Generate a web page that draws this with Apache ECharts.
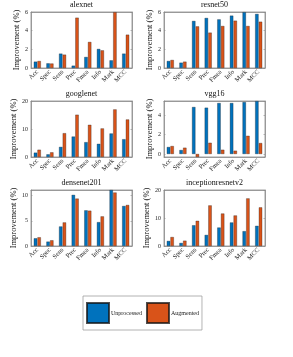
<!DOCTYPE html>
<html>
<head>
<meta charset="utf-8">
<script src="https://cdn.jsdelivr.net/npm/echarts@6/dist/echarts.min.js"></script>
<style>
html,body{margin:0;padding:0;background:#fff;}
#c{width:293px;height:357px;}
</style>
</head>
<body>
<div id="c"></div>
<script>
const categories = ['Acc','Spec','Sens','Prec','Fmea','Info','Mark','MCC'];
const seriesNames = ['Unprocessed','Augmented'];
const panelTitles = ['alexnet','resnet50','googlenet','vgg16','densenet201','inceptionresnetv2'];

const alexnetUnprocessed = [0.68, 0.50, 1.54, 0.25, 1.18, 2.04, 0.82, 1.54];
const alexnetAugmented   = [0.75, 0.48, 1.43, 5.39, 2.79, 1.89, 5.98, 3.57];
const resnet50Unprocessed = [0.75, 0.57, 5.04, 5.36, 5.21, 5.61, 5.98, 5.79];
const resnet50Augmented   = [0.86, 0.68, 4.46, 3.79, 4.50, 5.07, 4.50, 4.96];
const googlenetUnprocessed = [1.55, 0.95, 3.6, 7.3, 5.3, 4.7, 8.4, 6.35];
const googlenetAugmented   = [2.6, 1.67, 8.5, 15.1, 11.5, 10.2, 17.0, 13.4];
const vgg16Unprocessed = [0.72, 0.41, 4.85, 4.78, 5.26, 5.26, 5.36, 5.46];
const vgg16Augmented   = [0.82, 0.65, -0.31, 1.16, 0.44, 0.34, 1.88, 1.13];
const densenet201Unprocessed = [1.53, 0.87, 3.87, 10.13, 7.07, 4.73, 11.1, 7.93];
const densenet201Augmented   = [1.73, 1.13, 4.67, 9.4, 7.0, 5.87, 10.6, 8.13];
const inceptionUnprocessed = [1.8, 1.08, 7.4, 3.95, 6.6, 8.4, 5.3, 7.2];
const inceptionAugmented   = [3.2, 1.9, 9.0, 14.5, 11.6, 10.9, 17.0, 13.8];

// y-axis limits per panel: [min, max, interval or null]
const yLimits = [
  [0, 6, 2], [0, 6, 2],
  [0, 20, 10], [-0.31, 5.47, null],
  [0, 11.1, 5], [0, 20, 10]
];

const panelData = [
  [alexnetUnprocessed, alexnetAugmented],
  [resnet50Unprocessed, resnet50Augmented],
  [googlenetUnprocessed, googlenetAugmented],
  [vgg16Unprocessed, vgg16Augmented],
  [densenet201Unprocessed, densenet201Augmented],
  [inceptionUnprocessed, inceptionAugmented]
];

const FONT = 'Liberation Serif';
const AX = '#8a8a8a';
const colors = ['#0072BD', '#D95319'];
const colLeft = [31, 164];
const rowTop = [12, 101, 190];
const W = 101, H = 56;

const grids = [], xAxes = [], yAxes = [], titles = [], series = [];
for (let i = 0; i < 6; i++) {
  const c = i % 2, r = Math.floor(i / 2);
  grids.push({left: colLeft[c], top: rowTop[r], width: W, height: H,
    show: true, borderColor: AX, borderWidth: 0.8, backgroundColor: 'transparent'});
  titles.push({text: panelTitles[i], left: colLeft[c] + W / 2, top: rowTop[r] - 11.5,
    textAlign: 'center', padding: 0,
    textStyle: {fontFamily: FONT, fontSize: 8, fontWeight: 'normal', color: '#111'}});
}
for (let i = 0; i < 6; i++) {
  xAxes.push({type: 'category', gridIndex: i, data: categories, position: 'bottom',
    axisLine: {onZero: false, lineStyle: {color: AX, width: 0.8}},
    axisTick: {inside: true, length: 1.5, alignWithLabel: true, lineStyle: {color: AX, width: 0.6}},
    axisLabel: {rotate: 45, fontFamily: FONT, fontSize: 6.5, color: '#222', margin: 3, interval: 0}});
}
for (let i = 0; i < 6; i++) {
  xAxes.push({type: 'category', gridIndex: i, data: categories, position: 'top',
    axisLine: {onZero: false, lineStyle: {color: AX, width: 0.8}},
    axisTick: {inside: true, length: 1.5, alignWithLabel: true, lineStyle: {color: AX, width: 0.6}},
    axisLabel: {show: false}});
}
function yBase(i, pos) {
  const [mn, mx, iv] = yLimits[i];
  const o = {type: 'value', gridIndex: i, position: pos, min: mn, max: mx,
    splitLine: {show: false},
    axisLine: {show: true, onZero: false, lineStyle: {color: AX, width: 0.8}},
    axisTick: {show: true, inside: true, length: 1.5, lineStyle: {color: AX, width: 0.6}}};
  if (iv) o.interval = iv; else o.splitNumber = 3;
  return o;
}
for (let i = 0; i < 6; i++) {
  const o = yBase(i, 'left');
  const iv = yLimits[i][2] || 2;
  o.axisLabel = {fontFamily: FONT, fontSize: 6, color: '#222', margin: 3,
    showMinLabel: true, showMaxLabel: true,
    formatter: v => (Math.abs(v / iv - Math.round(v / iv)) < 1e-6 ? String(Math.round(v)) : '')};
  o.name = 'Improvement (%)';
  o.nameLocation = 'middle';
  o.nameGap = 10;
  o.nameTextStyle = {fontFamily: FONT, fontSize: 8.5, color: '#111'};
  yAxes.push(o);
}
for (let i = 0; i < 6; i++) {
  const o = yBase(i, 'right');
  o.axisLabel = {show: false};
  yAxes.push(o);
}
for (let i = 0; i < 6; i++) {
  for (let s = 0; s < 2; s++) {
    series.push({type: 'bar', name: seriesNames[s], xAxisIndex: i, yAxisIndex: i,
      data: panelData[i][s], barWidth: 3.4, barGap: '8%',
      itemStyle: {color: colors[s], borderColor: 'rgba(20,20,20,0.75)', borderWidth: 0.4},
      emphasis: {disabled: true}, animation: false});
  }
}

const chart = echarts.init(document.getElementById('c'), null, {renderer: 'canvas'});
chart.setOption({
  animation: false,
  backgroundColor: '#fff',
  title: titles,
  grid: grids,
  xAxis: xAxes,
  yAxis: yAxes,
  legend: {data: seriesNames, left: 83, top: 296, orient: 'horizontal',
    itemWidth: 22, itemHeight: 20, itemGap: 4, padding: [6, 3],
    borderColor: '#a0a0a0', borderWidth: 0.8, icon: 'rect',
    textStyle: {fontFamily: FONT, fontSize: 6, color: '#222', padding: [0, 0, 0, -3]}},
  series: series
});
</script>
</body>
</html>
